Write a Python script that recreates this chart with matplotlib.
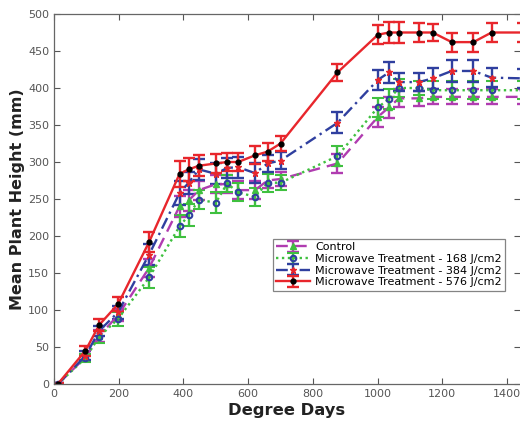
import matplotlib
matplotlib.use("Agg")
import matplotlib.pyplot as plt

# Thermal time of each sampling (degree days)
degree_days = [12, 97, 140, 198, 294, 388, 416, 448, 500, 535, 569, 621, 660, 700,
               876, 1001, 1035, 1066, 1128, 1170, 1229, 1296, 1352, 1450]

# Mean plant height (mm) and error for each treatment
control = [0, 36, 65, 93, 157, 240, 248, 262, 270, 270, 262, 262, 275, 277,
           298, 361, 374, 386, 386, 388, 388, 388, 388, 388]
control_err = [1, 5, 8, 8, 12, 14, 14, 13, 12, 12, 12, 12, 10, 10,
               13, 14, 14, 12, 10, 10, 10, 10, 10, 10]

mw168 = [0, 35, 64, 88, 144, 213, 228, 249, 245, 271, 259, 253, 272, 272,
         308, 374, 385, 400, 400, 397, 397, 397, 397, 397]
mw168_err = [1, 5, 8, 9, 14, 15, 15, 13, 14, 12, 12, 12, 12, 10,
             13, 13, 13, 12, 10, 12, 12, 12, 12, 12]

mw384 = [0, 38, 72, 97, 175, 258, 272, 290, 284, 292, 293, 285, 298, 302,
         353, 411, 421, 408, 408, 413, 423, 423, 414, 413]
mw384_err = [1, 6, 7, 9, 14, 16, 15, 14, 14, 14, 14, 14, 12, 12,
             14, 14, 14, 12, 12, 14, 15, 15, 13, 13]

mw576 = [0, 45, 80, 108, 192, 284, 290, 295, 298, 300, 300, 309, 314, 325,
         421, 472, 475, 475, 475, 475, 462, 462, 475, 475]
mw576_err = [1, 7, 8, 9, 13, 18, 15, 14, 13, 12, 12, 12, 12, 10,
             12, 13, 14, 14, 13, 12, 13, 13, 13, 13]

labels = ["Control",
          "Microwave Treatment - 168 J/cm2",
          "Microwave Treatment - 384 J/cm2",
          "Microwave Treatment - 576 J/cm2"]

RED = "#e8262c"
BLUE = "#2f3f9f"
GREEN = "#3fc03f"
MAGENTA = "#b03cb0"

fig = plt.figure(figsize=(5.2, 4.29), dpi=100)
ax = fig.add_axes([54 / 520, 45 / 429, 466 / 520, 370 / 429])

common = dict(elinewidth=1.7, capsize=4, capthick=1.7, lw=1.7)

ax.errorbar(degree_days, control, yerr=control_err, color=MAGENTA, ls=(0, (5, 3)),
            marker="^", ms=4, mfc=GREEN, mec=GREEN, ecolor=MAGENTA,
            label=labels[0], **common)
ax.errorbar(degree_days, mw168, yerr=mw168_err, color=GREEN, ls=(0, (1, 1.5)),
            marker="o", ms=4, mfc="none", mec=BLUE, mew=1.5, ecolor=GREEN,
            label=labels[1], **common)
ax.errorbar(degree_days, mw384, yerr=mw384_err, color=BLUE, ls=(0, (5, 2, 1, 2)),
            marker="*", ms=4.5, mfc=RED, mec=RED, ecolor=BLUE,
            label=labels[2], **common)
ax.errorbar(degree_days, mw576, yerr=mw576_err, color=RED, ls="-",
            marker="o", ms=3.5, mfc="black", mec="black", ecolor=RED,
            label=labels[3], **common)

ax.set_xlim(0, 1440)
ax.set_ylim(0, 500)
ax.set_xticks(range(0, 1401, 200))
ax.set_yticks(range(0, 501, 50))
ax.tick_params(direction="in", length=4, width=0.8, top=True, right=True,
               labelsize=8, labelcolor="#555555", color="#555555")
for side in ("left", "bottom", "top"):
    ax.spines[side].set_color("#666666")
    ax.spines[side].set_linewidth(0.9)
ax.spines["right"].set_visible(False)

ax.set_xlabel("Degree Days", fontsize=11.8, fontweight="bold", color="#222222", labelpad=3)
ax.set_ylabel("Mean Plant Height (mm)", fontsize=11.5, fontweight="bold", color="#222222")
ax.yaxis.set_label_coords(-0.062, 0.5)

leg = ax.legend(loc="upper left", bbox_to_anchor=(219 / 466, 145 / 370), fontsize=8,
                frameon=True, fancybox=False, edgecolor="#666666", handlelength=3,
                borderpad=0.3, labelspacing=0.15, handletextpad=0.5, borderaxespad=0)
leg.get_frame().set_linewidth(0.9)

fig.savefig("out.png", dpi=100)
